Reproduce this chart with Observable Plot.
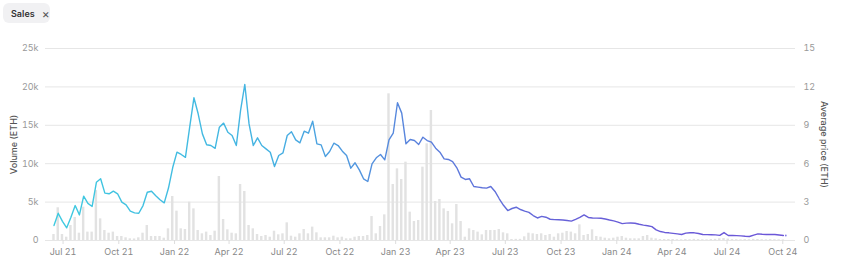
<!DOCTYPE html>
<html><head><meta charset="utf-8">
<script src="https://cdn.jsdelivr.net/npm/d3@7"></script>
<script src="https://cdn.jsdelivr.net/npm/@observablehq/plot@0.6"></script>
<style>
body{margin:0;background:#fff;font-family:Inter, "Noto Sans", sans-serif;}
#head{height:30px;position:relative}
.chip{position:absolute;left:3px;top:3px;height:20px;width:47px;background:#f1f1f3;border-radius:6px;font-size:9px;font-weight:600;color:#333;display:flex;align-items:center;}
.chip .x{margin-left:7px;color:#555;font-weight:400;font-size:12px}
</style></head><body>
<div id="head"><div class="chip"><span style="margin-left:8px">Sales</span><span class="x">×</span></div></div>
<div id="chart"></div>
<script>
// ---- data ----
const firstWeek = "2021-06-16"; // weekly series start
const price = [1.17,2.13,1.5,0.99,1.82,2.73,2.0,3.46,2.9,2.66,
4.55,4.82,3.7,3.65,3.85,3.65,3.0,2.79,2.29,2.16,
2.13,2.73,3.77,3.85,3.5,3.18,2.94,4.1,5.7,6.9,
6.72,6.5,8.85,11.15,9.9,8.33,7.48,7.42,7.2,8.85,
9.17,8.46,8.2,7.42,10.16,12.19,9.11,7.42,8.02,7.42,
7.16,6.9,5.78,6.64,6.85,8.2,8.5,7.86,7.63,8.54,
8.38,9.32,7.55,7.47,6.56,6.95,7.6,7.42,6.98,6.64,
5.65,6.07,5.52,4.82,4.61,5.99,6.46,6.72,6.3,7.86,
8.38,10.76,9.95,7.55,7.89,7.81,7.5,8.07,7.81,7.68,
7.21,6.9,6.38,6.33,6.17,5.68,4.95,4.77,4.82,4.22,
4.17,4.12,4.09,4.22,3.83,3.26,2.75,2.34,2.5,2.6,
2.42,2.3,2.2,1.95,1.76,1.88,1.82,1.66,1.63,1.62,
1.6,1.56,1.51,1.65,1.8,2.0,1.8,1.76,1.75,1.74,
1.68,1.6,1.53,1.44,1.32,1.36,1.37,1.35,1.27,1.2,
1.15,1.08,0.83,0.7,0.63,0.6,0.56,0.52,0.47,0.58,
0.6,0.6,0.55,0.47,0.46,0.45,0.44,0.4,0.62,0.39,
0.39,0.38,0.36,0.33,0.31,0.42,0.52,0.49,0.47,0.47,
0.47,0.43,0.39];
const volume = [780,4260,780,430,1950,3000,950,4340,1090,1090,
6500,2820,1300,950,1090,520,520,350,220,200,
350,950,1950,520,520,520,300,1520,5730,3820,
1520,1430,4990,4120,1300,870,1090,650,1210,8330,
2730,1390,950,870,7290,6380,1950,1520,780,520,
650,430,1210,740,870,2300,560,430,870,1430,
870,1740,1000,350,350,350,560,350,430,220,
220,430,520,520,650,3120,870,1820,3340,19100,
7290,9330,7940,10200,3690,2470,2600,9550,12590,16930,
5080,5340,4120,3780,2170,4690,2470,430,1520,1300,
1090,740,1300,1300,1300,1430,1000,870,130,150,
150,480,950,870,780,870,650,780,430,870,
950,1170,1090,870,2040,650,780,1390,520,430,
300,220,300,430,520,300,220,220,220,520,
650,300,220,130,130,130,130,100,90,120,
100,150,120,100,90,130,150,220,250,180,
120,100,90,120,100,150,130,100,90,120,
100,90,80];
const tailDate = ["2024-10-06"];
const tailPrice = [0.39];
const volumeTicks = [0,5000,10000,15000,20000,25000];
const priceTicks = [0,3,6,9,12,15];
const xTicks = ["2021-07-01","2021-10-01","2022-01-01","2022-04-01","2022-07-01","2022-10-01","2023-01-01","2023-04-01","2023-07-01","2023-10-01","2024-01-01","2024-04-01","2024-07-01","2024-10-01"];

// ---- build ----
const t0 = new Date(firstWeek);
const rows = price.map((p, i) => ({date: d3.utcDay.offset(t0, 7 * i), price: p, volume: volume[i]}));
const tail = tailDate.map((d, i) => ({date: new Date(d), price: tailPrice[i]}));
const k = 25000 / 15; // price -> volume scale factor (shared pixel range)

const chart = Plot.plot({
  width: 850, height: 235,
  marginLeft: 45, marginRight: 55, marginTop: 18, marginBottom: 25,
  style: {fontFamily: "Inter, 'Noto Sans', sans-serif", fontSize: "9px", background: "#fff", overflow: "visible"},
  x: {type: "utc", domain: [new Date("2021-06-02"), new Date("2024-10-22")]},
  y: {domain: [0, 25000]},
  marks: [
    Plot.gridY(volumeTicks, {stroke: "#e6e6e6", strokeOpacity: 1}),
    Plot.axisY(volumeTicks, {anchor: "left", tickSize: 0, tickPadding: 7, tickFormat: d3.format("~s"), label: null, fill: "#999"}),
    Plot.axisY(priceTicks.map(d => d * k), {anchor: "right", tickSize: 0, tickPadding: 8, tickFormat: d => String(Math.round(d / k)), label: null, fill: "#999"}),
    Plot.axisX(xTicks.map(d => new Date(d)), {tickFormat: d3.utcFormat("%b %y"), tickSize: 4, tickPadding: 4, label: null, fill: "#888", stroke: "#ddd"}),
    Plot.rectY(rows, {x1: d => d3.utcDay.offset(d.date, -2), x2: d => d3.utcDay.offset(d.date, 2), y: "volume", fill: "#e2e2e2"}),
    Plot.line(rows, {x: "date", y: d => d.price * k, stroke: "url(#lg)", strokeWidth: 1.4, curve: "linear"}),
    Plot.dot(tail, {x: "date", y: d => d.price * k, r: 0.9, fill: "#8a80e6", stroke: null}),
    Plot.text(["Volume (ETH)"], {frameAnchor: "left", dx: -31, rotate: -90, textAnchor: "middle", text: d => d, fill: "#555", fontSize: 9, fontWeight: 500}),
    Plot.text(["Average price (ETH)"], {frameAnchor: "right", dx: 28, rotate: 90, textAnchor: "middle", text: d => d, fill: "#555", fontSize: 9, fontWeight: 500})
  ]
});

const ns = "http://www.w3.org/2000/svg";
const defs = document.createElementNS(ns, "defs");
defs.innerHTML = `<linearGradient id="lg" gradientUnits="userSpaceOnUse" x1="45" y1="0" x2="795" y2="0">
<stop offset="0" stop-color="#3ecbe0"/>
<stop offset="0.3" stop-color="#45b2e2"/>
<stop offset="0.5" stop-color="#5a80dc"/>
<stop offset="0.7" stop-color="#6760d8"/>
<stop offset="1" stop-color="#6c55d8"/>
</linearGradient>`;
chart.prepend(defs);
document.getElementById("chart").appendChild(chart);
</script>
</body></html>
